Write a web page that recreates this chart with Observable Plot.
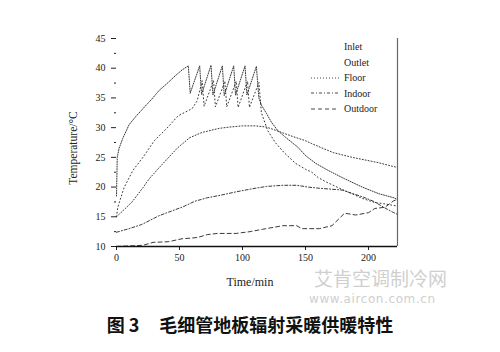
<!DOCTYPE html>
<html><head><meta charset="utf-8">
<script src="https://cdn.jsdelivr.net/npm/d3@7"></script>
<script src="https://cdn.jsdelivr.net/npm/@observablehq/plot@0.6"></script>
<style>
body{margin:0;background:#fff;width:500px;height:352px;overflow:hidden;position:relative;font-family:"Liberation Serif",serif;}
#wrap{position:relative;width:500px;}
#legend{position:absolute;left:311px;top:39px;font:10px "Liberation Serif",serif;color:#222;}
#legend .row{height:15.5px;display:flex;align-items:center;}
#legend svg{width:30px;height:8px;margin-right:3px;}
#wm1{position:absolute;left:314px;top:268px;font:19px/1 "Noto Sans CJK SC";color:#cfcfcf;}
#wm2{position:absolute;left:309px;top:293px;font:12px/1 "DejaVu Sans";color:#cfcfcf;letter-spacing:0.6px;}
#cap{position:absolute;left:0;top:314px;width:500px;text-align:center;font:bold 18px/1.2 "Noto Sans CJK SC";color:#111;}
#cap .gap{display:inline-block;width:20px;}
</style></head><body>
<div id="wrap"></div>
<div id="wm1">艾肯空调制冷网</div>
<div id="wm2">www.aircon.com.cn</div>
<div id="cap">图 3<span class="gap"> </span>毛细管地板辐射采暖供暖特性</div>
<script>
const seriesNames = ["Inlet","Outlet","Floor","Indoor","Outdoor"];
const dashes = ["1,1.4","1,2.6","1,2","3,2,1,2","4,3"];

const inletT = [0,0.6,2,5,10,15,21,28,34,40,47,52,57,58.5,66,67.5,75,76.5,84,85.5,93,94.5,102,103.5,111,113,115,119,123,128,134,144,150,158,168,181,195,208,220,223];
const inletV = [18.5,25,26.5,28.2,30.5,31.8,33.2,34.8,36.3,37.4,38.8,39.7,40.4,35.8,40.4,35.6,40.5,35.5,40.4,35.4,40.4,35.5,40.4,35.5,40.3,35,33.8,32.4,30.9,29.5,28.4,26.7,25.3,24,22.8,21.4,20,18.9,18.2,17.9];

const outletT = [0,1,6,13,21,30,40,49,60,64,68,69.5,77,78.5,86,87.5,95,96.5,104,105.5,113,115,120,126,133,142,150,155,160,167,177,195,205,212,220,223];
const outletV = [15,16.6,19.9,22.8,25,27.8,29.9,32,33.2,34.5,37.9,33.6,37.9,33.5,37.8,33.5,37.8,33.4,37.8,33.4,37.6,32.5,29.5,27.5,25.8,24,23,22.5,21.6,20.8,19.8,18.1,17.4,17.2,16.9,16.8];

const floorT = [0,5,12,21,26,34,48,58,68,82,90,100,110,119,127,140,150,155,164,172,187,208,217,223];
const floorV = [15,16,17.4,19.9,21.4,23.3,26.5,28.3,29.2,29.9,30.1,30.3,30.3,30.1,29.5,28.5,27.8,27.3,26.5,25.8,25,24.1,23.6,23.3];

const indoorT = [0,10,20,34,53,62,72,82,95,110,119,132,143,152,161,179,196,204,212,220,223];
const indoorV = [12.4,13,13.7,15.2,16.7,17.6,18.2,18.6,19.2,19.8,20.1,20.3,20.3,20,19.8,19.5,18.3,17.6,16.6,15.7,15.4];

const outdoorT = [0,10,21,29,41,52,64,72,80,95,106,116,132,143,147,161,171,181,190,200,205,213,220,223];
const outdoorV = [10,10.1,10.2,10.7,10.8,11.3,11.5,12,12.2,12.2,12.5,12.9,13.5,13.5,13,13,13.5,15.6,15.3,15.7,16.4,16.6,17.7,17.9];

const xTicks = [0,50,100,150,200];
const yTicks = [10,15,20,25,30,35,40,45];
const yMinor = [12.5,17.5,22.5,27.5,32.5,37.5,42.5];
const xMax = 223;

const allT = [inletT,outletT,floorT,indoorT,outdoorT];
const allV = [inletV,outletV,floorV,indoorV,outdoorV];
const data = [];
seriesNames.forEach((s,i)=>allT[i].forEach((t,j)=>data.push({series:s,t,v:allV[i][j]})));

const lineMarks = seriesNames.map((s,i)=>Plot.line(data.filter(d=>d.series===s),{x:"t",y:"v",stroke:"#222",strokeWidth:0.9,strokeDasharray:dashes[i]}));

const chart = Plot.plot({
  width:500, height:300,
  marginLeft:116, marginRight:103, marginTop:38, marginBottom:54,
  style:{fontFamily:"Liberation Serif, serif", fontSize:"10px", color:"#222", background:"#fff"},
  x:{domain:[0,xMax]},
  y:{domain:[10,45]},
  marks:[
    Plot.axisX({ticks:xTicks, tickSize:4, tickPadding:3, label:null}),
    Plot.axisY({ticks:yTicks, tickSize:5, tickPadding:6, label:null}),
    Plot.axisY({ticks:yMinor, tickSize:2, text:null, label:null}),
    ...lineMarks,
    Plot.ruleY([10],{stroke:"#111",strokeWidth:1.6}),
    Plot.ruleX([xMax],{stroke:"#666",strokeWidth:1.2})
  ]
});
const wrap = document.getElementById("wrap");
wrap.appendChild(chart);

const svg = d3.select(chart);
svg.append("text").attr("x",250).attr("y",286).attr("text-anchor","middle")
  .style("font","12px 'Liberation Serif', serif").attr("fill","#222").text("Time/min");
svg.append("text").attr("transform","translate(77,148) rotate(-90)").attr("text-anchor","middle")
  .style("font","11.5px 'Liberation Serif', serif").attr("fill","#222").text("Temperature/°C");

const lg = document.createElement("div"); lg.id="legend";
seriesNames.forEach((s,i)=>{
  const row=document.createElement("div"); row.className="row";
  const show = i>=2;
  row.innerHTML = `<svg viewBox="0 0 30 8"><line x1="0" x2="28" y1="4" y2="4" stroke="${show?'#333':'none'}" stroke-width="0.9" stroke-dasharray="${dashes[i]}"/></svg><span>${s}</span>`;
  lg.appendChild(row);
});
wrap.appendChild(lg);
</script>
</body></html>
